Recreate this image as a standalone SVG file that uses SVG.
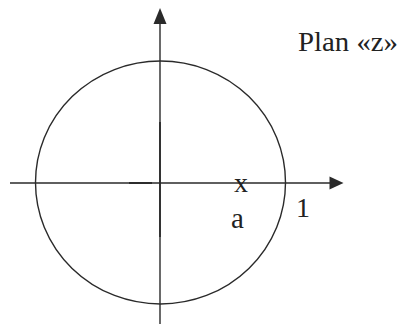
<svg xmlns="http://www.w3.org/2000/svg" width="403" height="324" viewBox="0 0 403 324">
<style>
.ln{stroke:#2a2a2a;stroke-width:1.4;fill:none}
.ah{fill:#2a2a2a}
.t{font-family:"Liberation Serif","Times New Roman",serif;fill:#222}
</style>
<rect width="403" height="324" fill="#fff"/>
<g id="circle">
<ellipse class="ln" cx="160.5" cy="182.5" rx="125" ry="121.5"/>
</g>
<g id="axes">
<line class="ln" x1="10" y1="183" x2="332" y2="183"/>
<polygon class="ah" points="343.5,183 329.5,176.5 329.5,189.5"/>
<line class="ln" x1="160" y1="324" x2="160" y2="22"/>
<polygon class="ah" points="160,8 153.5,24 166.5,24"/>
<line stroke="#2a2a2a" stroke-width="1.9" x1="129" y1="183" x2="152" y2="183"/>
<line stroke="#2a2a2a" stroke-width="1.7" x1="160" y1="122" x2="160" y2="237"/>
</g>
<g id="labels">
<text class="t" x="298" y="51" font-size="28" textLength="100" lengthAdjust="spacingAndGlyphs">Plan «z»</text>
<text class="t" x="241" y="192" font-size="28" text-anchor="middle">x</text>
<text class="t" x="231" y="228" font-size="29">a</text>
<text class="t" x="296" y="217" font-size="28">1</text>
</g>
</svg>
